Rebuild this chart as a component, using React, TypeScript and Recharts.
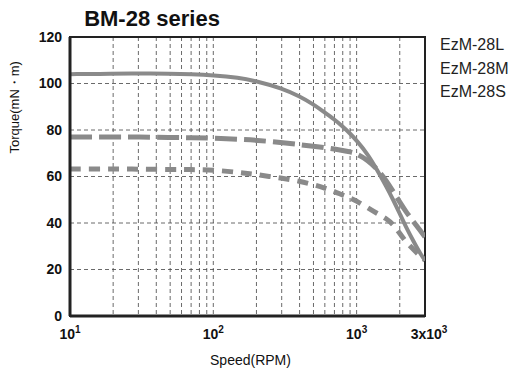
import { LineChart, Line, XAxis, YAxis, CartesianGrid, ReferenceArea } from 'recharts';

// speed (RPM) sample points shared by all three curves
const rpm = [10, 20, 30, 50, 70, 100, 150, 200, 300, 400, 500, 600, 700, 800, 900, 1000, 1200, 1400, 1600, 1800, 2000, 2200, 2500, 2800, 3000];

const ezm28L = [104, 104.2, 104.3, 104.2, 104, 103.6, 102.5, 101, 98, 94.5, 91, 87.5, 84.5, 81.5, 78.5, 75.5, 69.5, 62.5, 56, 50, 44, 38.5, 32, 26.5, 24];
const ezm28M = [77, 77, 77, 76.8, 76.7, 76.5, 76, 75.6, 74.6, 73.7, 73, 72.4, 71.8, 71.2, 70.6, 69.8, 67, 63, 58.5, 53.5, 49, 45, 40.5, 36.5, 34];
const ezm28S = [63.2, 63.2, 63.2, 63, 63, 62.8, 61.8, 60.8, 59.3, 58, 56.5, 55, 53.5, 52, 50.8, 49.5, 46.5, 44, 42, 39.5, 35.5, 32, 28.5, 25.5, 24];

const xTicks = [10, 20, 30, 40, 50, 60, 70, 80, 90, 100, 200, 300, 400, 500, 600, 700, 800, 900, 1000, 2000, 3000];
const xLabels: Record<number, [string, string]> = {
  10: ['10', '1'],
  100: ['10', '2'],
  1000: ['10', '3'],
  3000: ['3x10', '3'],
};
const yTicks = [0, 20, 40, 60, 80, 100, 120];
const seriesNames = ['EzM-28L', 'EzM-28M', 'EzM-28S'];

const data = rpm.map((r, i) => ({ rpm: r, L: ezm28L[i], M: ezm28M[i], S: ezm28S[i] }));

const LINE = '#8a8a8a';
const FONT = '"Liberation Sans", Arial, sans-serif';

// eslint-disable-next-line @typescript-eslint/no-explicit-any
const SpeedTick = ({ x, y, payload }: any) => {
  const lab = xLabels[payload.value];
  if (!lab) return null;
  return (
    <text x={payload.value === 3000 ? x + 4 : x} y={y + 15} textAnchor="middle" fontSize={14} fontWeight={600} fontFamily={FONT} fill="#111">
      <tspan>{lab[0]}</tspan>
      <tspan dy={-6} fontSize={10}>{lab[1]}</tspan>
    </text>
  );
};

export default function App() {
  return (
    <div style={{ position: 'absolute', left: 0, top: 0, width: 513, height: 372, background: '#fff', fontFamily: FONT }}>
      <div style={{ position: 'absolute', left: 0, width: 304, top: 6, textAlign: 'center', fontSize: 22, fontWeight: 700, color: '#111' }}>
        BM-28 series
      </div>
      {seriesNames.map((n, i) => (
        <div key={n} style={{ position: 'absolute', left: 440, top: 36 + i * 23.5, fontSize: 16, color: '#222' }}>
          {n}
        </div>
      ))}
      <LineChart width={513} height={372} data={data} margin={{ top: 37, right: 88, bottom: 0, left: 0 }}>
        <CartesianGrid stroke="#444" strokeWidth={0.8} strokeDasharray="4 3" />
        <ReferenceArea x1={10} x2={3000} y1={0} y2={120} fill="none" stroke="#222" strokeWidth={2} />
        <XAxis
          dataKey="rpm"
          type="number"
          scale="log"
          domain={[10, 3000]}
          ticks={xTicks}
          allowDataOverflow
          height={56}
          axisLine={{ stroke: '#222', strokeWidth: 3 }}
          tickLine={false}
          tick={<SpeedTick />}
          interval={0}
          label={{ value: 'Speed(RPM)', position: 'insideBottom', offset: 7, dx: 3, fontSize: 14, fill: '#111', fontFamily: FONT }}
        />
        <YAxis
          type="number"
          domain={[0, 120]}
          ticks={yTicks}
          width={70}
          axisLine={{ stroke: '#222', strokeWidth: 3 }}
          tickLine={false}
          tick={{ fontSize: 14, fontWeight: 600, fill: '#111', fontFamily: FONT }}
          tickMargin={2}
          interval={0}
          label={{ value: 'Torque(mN・m)', angle: -90, position: 'insideLeft', offset: 14, dy: -23, fontSize: 13, fill: '#111', fontFamily: FONT }}
        />
        <Line type="basis" dataKey="L" name="EzM-28L" stroke={LINE} strokeWidth={4} dot={false} isAnimationActive={false} />
        <Line type="basis" dataKey="M" name="EzM-28M" stroke={LINE} strokeWidth={5} strokeDasharray="22 7" dot={false} isAnimationActive={false} />
        <Line type="basis" dataKey="S" name="EzM-28S" stroke={LINE} strokeWidth={5} strokeDasharray="11 8" dot={false} isAnimationActive={false} />
      </LineChart>
    </div>
  );
}
